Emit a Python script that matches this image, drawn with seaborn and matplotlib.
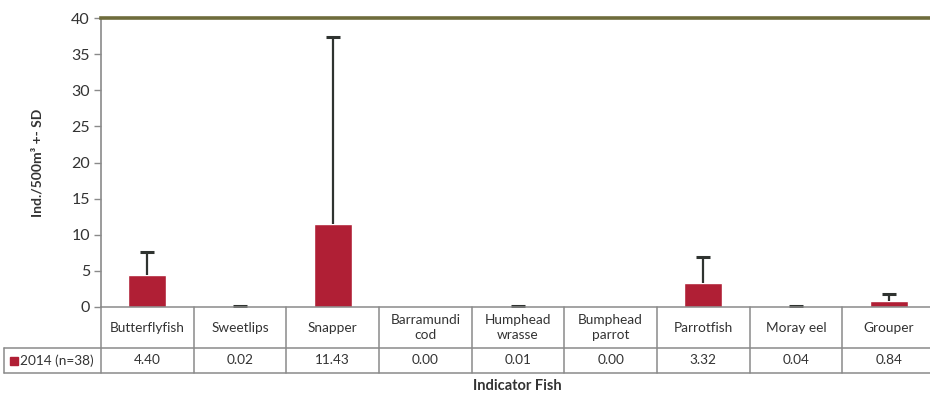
import matplotlib
matplotlib.use("Agg")
import matplotlib.pyplot as plt
from matplotlib.lines import Line2D
from matplotlib.patches import Rectangle
import numpy as np
import pandas as pd
import seaborn as sns

# Indicator fish densities, 2014 survey (n=38)
categories = ["Butterflyfish", "Sweetlips", "Snapper", "Barramundi\ncod",
              "Humphead\nwrasse", "Bumphead\nparrot", "Parrotfish",
              "Moray eel", "Grouper"]
means = [4.40, 0.02, 11.43, 0.00, 0.01, 0.00, 3.32, 0.04, 0.84]
sds = [3.2, 0.1, 26.0, 0.0, 0.1, 0.0, 3.6, 0.15, 0.95]
value_labels = ["4.40", "0.02", "11.43", "0.00", "0.01", "0.00", "3.32", "0.04", "0.84"]
series_label = "2014 (n=38)"
y_ticks = [0, 5, 10, 15, 20, 25, 30, 35, 40]

sns.set_theme(style="white")
plt.rcParams["font.family"] = ["Lato", "DejaVu Sans"]

bar_color = "#B01F35"
grid_col = "#8a8a8a"
err_col = "#2f3330"

df = pd.DataFrame({"fish": categories, "mean": means})

fig = plt.figure(figsize=(9.30, 3.95), dpi=100)
W, H = 930, 395
ax_left, ax_right, ax_top, ax_bot = 101, 935, 18, 307
ax = fig.add_axes([ax_left / W, (H - ax_bot) / H,
                   (ax_right - ax_left) / W, (ax_bot - ax_top) / H])

sns.barplot(data=df, x="fish", y="mean", color=bar_color, width=0.41,
            saturation=1, ax=ax, errorbar=None)

# Upper-only (+SD) error bars with a cap at the top end
x = np.arange(len(categories))
mean_arr = np.array(means)
sd = np.array(sds)
mask = sd > 0
ax.errorbar(x[mask], mean_arr[mask],
            yerr=[np.zeros(mask.sum()), sd[mask]],
            fmt="none", ecolor=err_col, elinewidth=1.6, capsize=0)
ax.scatter(x[mask], (mean_arr + sd)[mask], marker="_", s=90,
           color=err_col, linewidths=2.2, zorder=3)

ax.set_xlim(-0.5, len(categories) - 0.5)
ax.set_ylim(0, 40)
ax.set_yticks(y_ticks)
ax.tick_params(axis="y", which="both", left=True, length=5, width=1,
               color=grid_col, labelsize=11.5, labelcolor="#333333", pad=3)
ax.set_xticks([])
ax.set_xlabel("")
ax.set_ylabel("Ind./500m³ +- SD", fontsize=10, fontweight="bold",
              color="#333333", labelpad=20)

for side in ["right", "bottom"]:
    ax.spines[side].set_visible(False)
ax.spines["left"].set_color(grid_col)
ax.spines["left"].set_linewidth(1.2)
ax.spines["top"].set_color("#6e6c3c")
ax.spines["top"].set_linewidth(2.6)

# Data table beneath the plot
trans = ax.get_xaxis_transform()
axh = ax_bot - ax_top
row1 = -(348 - ax_bot) / axh
row2 = -(373 - ax_bot) / axh
col_w = (ax_right - ax_left) / len(categories)
x_label_left = -0.5 + (4 - ax_left) / col_w
n = len(categories)
lw = 1.1

def hline(x0, x1, y):
    fig.add_artist(Line2D([x0, x1], [y, y], transform=trans, color=grid_col,
                          lw=lw, clip_on=False))

def vline(xv, y0, y1):
    fig.add_artist(Line2D([xv, xv], [y0, y1], transform=trans, color=grid_col,
                          lw=lw, clip_on=False))

hline(-0.5, n - 0.5, 0)
hline(x_label_left, n - 0.5, row1)
hline(x_label_left, n - 0.5, row2)
for i in range(n + 1):
    vline(i - 0.5, 0, row2)
vline(x_label_left, row1, row2)

for i, (cat, val) in enumerate(zip(categories, value_labels)):
    ax.text(i, row1 / 2, cat, transform=trans, ha="center", va="center",
            fontsize=9.8, color="#333333", linespacing=1.25, clip_on=False)
    ax.text(i, (row1 + row2) / 2, val, transform=trans, ha="center",
            va="center", fontsize=9.8, color="#333333", clip_on=False)

mid = (row1 + row2) / 2
sq_x = x_label_left + 6 / col_w
sq_h = 8 / axh
fig.add_artist(Rectangle((sq_x, mid - sq_h / 2), 8 / col_w, sq_h,
                         transform=trans, color=bar_color, clip_on=False))
ax.text(sq_x + 10 / col_w, mid, series_label, transform=trans, ha="left",
        va="center", fontsize=9.8, color="#333333", clip_on=False)

fig.text(517 / W, 1 - 386 / H, "Indicator Fish", ha="center", va="center",
         fontsize=10.5, fontweight="bold", color="#333333")

fig.savefig("out.png", dpi=100)
